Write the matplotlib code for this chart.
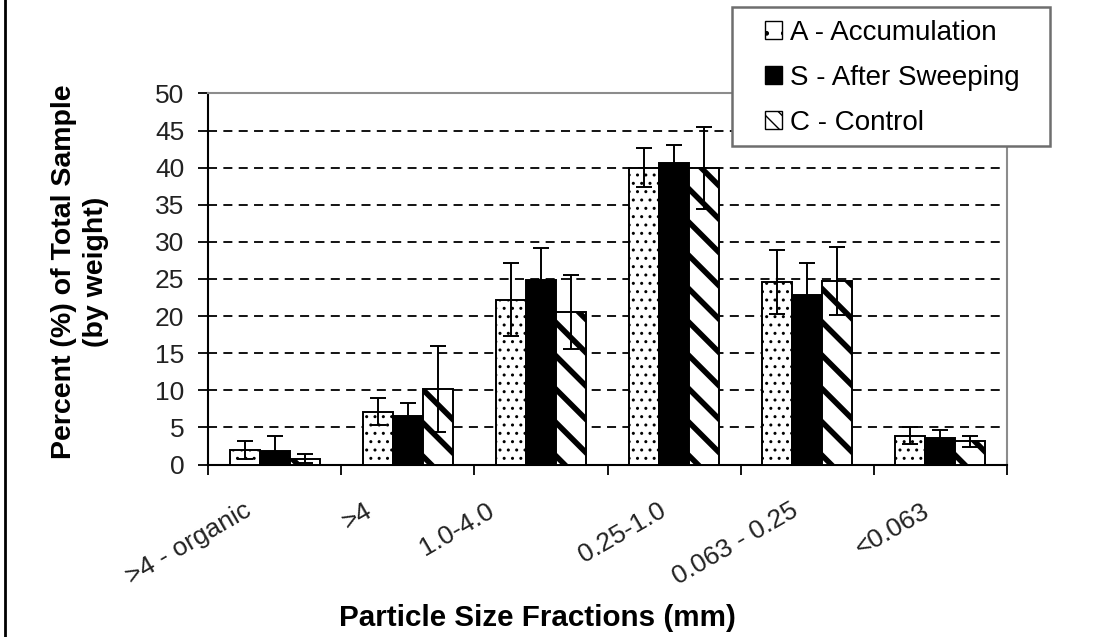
import numpy as np
import matplotlib
matplotlib.use("Agg")
import matplotlib.pyplot as plt
from matplotlib.lines import Line2D
from matplotlib.patches import Patch, Rectangle
from matplotlib.transforms import ScaledTranslation

plt.rcParams['font.family'] = ['Liberation Sans', 'DejaVu Sans']

# --- data ---
categories = ['>4 - organic', '>4', '1.0-4.0', '0.25-1.0', '0.063 - 0.25', '<0.063']
accumulation = [2.0, 7.1, 22.2, 40.0, 24.6, 3.9]
accumulation_err = [1.2, 1.8, 4.9, 2.6, 4.3, 1.2]
sweeping = [1.8, 6.5, 24.9, 40.6, 22.9, 3.6]
sweeping_err = [2.1, 1.8, 4.3, 2.4, 4.2, 1.1]
control = [0.8, 10.2, 20.5, 40.0, 24.7, 3.1]
control_err = [0.6, 5.8, 5.0, 5.5, 4.6, 0.7]
series_names = ['A - Accumulation', 'S - After Sweeping', 'C - Control']

# small per-label horizontal shifts (px) to mimic the original label placement
label_dx = [-31, -44, -55, -16, -17, -19]

W, H = 1094, 637
fig = plt.figure(figsize=(W / 100, H / 100), dpi=100)
ax = fig.add_axes([208 / W, 1 - 464.5 / H, (1007 - 208) / W, (464.5 - 93.5) / H])

x = np.arange(len(categories))
bw = 0.225
err_kw = dict(ecolor='black', elinewidth=1.4, capsize=5.5, capthick=1.4)

with plt.rc_context({'hatch.linewidth': 1.0}):
    ax.bar(x - bw, accumulation, bw, yerr=accumulation_err, color='white',
           edgecolor='black', linewidth=1.4, hatch='..', error_kw=err_kw, zorder=3)
ax.bar(x, sweeping, bw, yerr=sweeping_err, color='black',
       edgecolor='black', linewidth=1.4, error_kw=err_kw, zorder=3)
with plt.rc_context({'hatch.linewidth': 4.0}):
    ax.bar(x + bw, control, bw, yerr=control_err, color='white',
           edgecolor='black', linewidth=1.4, hatch='\\', error_kw=err_kw, zorder=3)

# axes
ax.set_xlim(-0.5, len(categories) - 0.5)
ax.set_ylim(0, 50)
ax.set_yticks(np.arange(0, 51, 5))
ax.yaxis.grid(True, color='black', linestyle=(0, (5, 3.5)), linewidth=1.3)
ax.set_axisbelow(True)
for side in ['top', 'right']:
    ax.spines[side].set_color('#8c8c8c')
    ax.spines[side].set_linewidth(1.5)
for side in ['left', 'bottom']:
    ax.spines[side].set_linewidth(1.5)

ax.tick_params(axis='y', direction='out', length=7.5, width=1.3,
               labelsize=19, pad=9.5, colors='black', labelcolor='#222222')
ax.set_xticks(np.arange(len(categories) + 1) - 0.5)
ax.set_xticklabels([])
ax.tick_params(axis='x', which='major', direction='out', length=7.5, width=1.3)
ax.set_xticks(x, categories, minor=True)
ax.tick_params(axis='x', which='minor', length=0, pad=24.5, labelsize=19,
               labelcolor='#222222')
for lab, dx in zip(ax.get_xticklabels(minor=True), label_dx):
    lab.set_rotation(30)
    lab.set_ha('right')
    lab.set_va('top')
    lab.set_rotation_mode('anchor')
    lab.set_transform(lab.get_transform() + ScaledTranslation(dx / 100, 0, fig.dpi_scale_trans))

# titles
fig.text(537 / W, 1 - 618 / H, 'Particle Size Fractions (mm)', ha='center',
         va='center', fontsize=21.3, fontweight='bold')
fig.text(80 / W, 1 - 272 / H, 'Percent (%) of Total Sample\n(by weight)',
         ha='center', va='center', rotation=90, fontsize=20.5,
         fontweight='bold', linespacing=1.3, multialignment='center')

# legend: frame drawn by hand (wider side padding than top/bottom)
fig.add_artist(Rectangle((732 / W, 1 - 146 / H), (1050 - 732) / W, (146 - 7) / H,
                         transform=fig.transFigure, facecolor='white',
                         edgecolor='#6e6e6e', linewidth=1.8, zorder=4))
with plt.rc_context({'hatch.linewidth': 2.5}):
    handles = [Patch(facecolor='white', edgecolor='black', hatch='.', label=series_names[0]),
               Patch(facecolor='black', edgecolor='black', label=series_names[1]),
               Patch(facecolor='white', edgecolor='black', hatch='\\\\', label=series_names[2])]
leg = fig.legend(handles=handles, loc='upper left',
                 bbox_to_anchor=(765 / W, 1 - 20 / H), fontsize=20,
                 frameon=False, borderaxespad=0, borderpad=0,
                 handlelength=0.61, handleheight=0.61, handletextpad=0.29,
                 labelspacing=0.68)
leg.set_zorder(5)

# left edge border of the picture
fig.add_artist(Line2D([5 / W, 5 / W], [0, 1], color='black', linewidth=2,
                      transform=fig.transFigure))

fig.savefig('out.png', dpi=100)
